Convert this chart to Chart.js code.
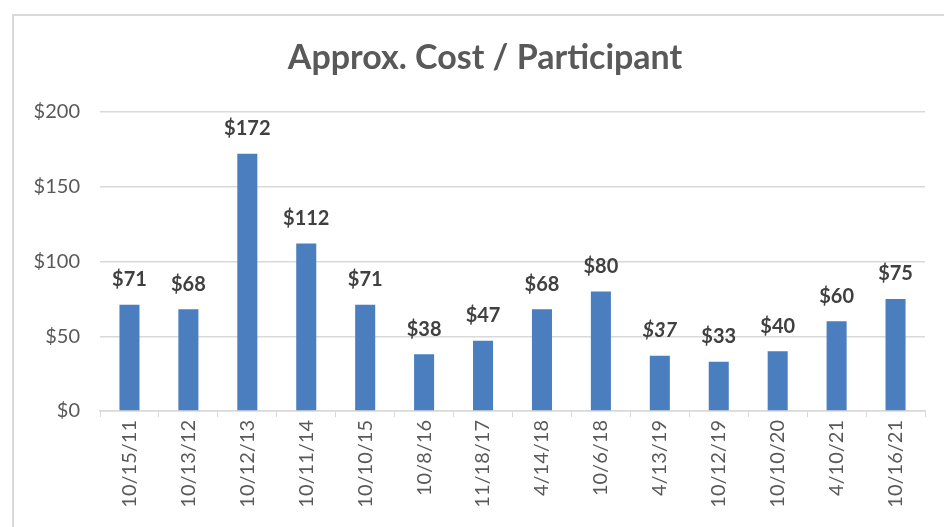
<!DOCTYPE html>
<html>
<head>
<meta charset="utf-8">
<script src="https://cdn.jsdelivr.net/npm/chart.js@4/dist/chart.umd.min.js"></script>
<style>
  html, body { margin: 0; padding: 0; background: #fff; }
  #wrap { position: absolute; left: 0; top: 0; width: 944px; height: 527px; }
  #frame { position: absolute; left: 12px; top: 14px; width: 940px; height: 520px; border: 2px solid #d9d9d9; }
</style>
</head>
<body>
<div id="wrap">
  <div id="frame"></div>
  <canvas id="chart" width="944" height="527"></canvas>
</div>
<script>
// chart data
const chartTitle = "Approx. Cost / Participant";
const categories = ["10/15/11", "10/13/12", "10/12/13", "10/11/14", "10/10/15", "10/8/16", "11/18/17",
  "4/14/18", "10/6/18", "4/13/19", "10/12/19", "10/10/20", "4/10/21", "10/16/21"];
const costPerParticipant = [71, 68, 172, 112, 71, 38, 47, 68, 80, 37, 33, 40, 60, 75];
const yTicks = [0, 50, 100, 150, 200];
const italicLabels = [9]; // the $37 label is italic in the original

const FONT = "Lato, 'Open Sans', sans-serif";

// title is centred on the frame, not on the canvas, so draw it by hand
const frameTitle = {
  id: "frameTitle",
  afterDraw(chart) {
    const ctx = chart.ctx;
    ctx.save();
    ctx.fillStyle = "#595959";
    ctx.font = `bold 34px ${FONT}`;
    ctx.textAlign = "center";
    ctx.textBaseline = "middle";
    ctx.fillText(chartTitle, 485, 58);
    ctx.restore();
  }
};

// draws "$71" etc above each bar
const valueLabels = {
  id: "valueLabels",
  afterDatasetsDraw(chart) {
    const ctx = chart.ctx;
    const meta = chart.getDatasetMeta(0);
    ctx.save();
    ctx.fillStyle = "#404040";
    ctx.textAlign = "center";
    ctx.textBaseline = "middle";
    meta.data.forEach((bar, i) => {
      const style = italicLabels.includes(i) ? "italic bold" : "bold";
      ctx.font = `${style} 20px ${FONT}`;
      ctx.fillText("$" + costPerParticipant[i], bar.x, bar.y - 25);
    });
    ctx.restore();
  }
};

new Chart(document.getElementById("chart"), {
  type: "bar",
  data: {
    labels: categories,
    datasets: [{
      data: costPerParticipant,
      backgroundColor: "#4a7ebf",
      categoryPercentage: 1,
      barPercentage: 0.34,
    }]
  },
  options: {
    responsive: false,
    animation: false,
    layout: { padding: { left: 0, right: 19, top: 112, bottom: 0 } },
    plugins: {
      legend: { display: false },
      tooltip: { enabled: false },
      title: { display: false },
    },
    scales: {
      x: {
        afterFit(scale) { scale.height = 116; },
        grid: { offset: true, drawOnChartArea: false, drawTicks: true, tickLength: 6, color: "#d9d9d9" },
        border: { color: "#d9d9d9", width: 1.5 },
        ticks: {
          color: "#595959",
          font: { family: FONT, size: 20 },
          minRotation: 90,
          maxRotation: 90,
          padding: 3,
          autoSkip: false,
        },
      },
      y: {
        min: 0,
        max: 200,
        afterBuildTicks(scale) { scale.ticks = yTicks.map(v => ({ value: v })); },
        afterFit(scale) { scale.width = 100; },
        grid: { color: "#d9d9d9", drawTicks: false, lineWidth: 1.5 },
        border: { display: false },
        ticks: {
          color: "#595959",
          font: { family: FONT, size: 20 },
          padding: 20,
          callback: v => "$" + v,
        },
      },
    },
  },
  plugins: [valueLabels, frameTitle],
});
</script>
</body>
</html>
